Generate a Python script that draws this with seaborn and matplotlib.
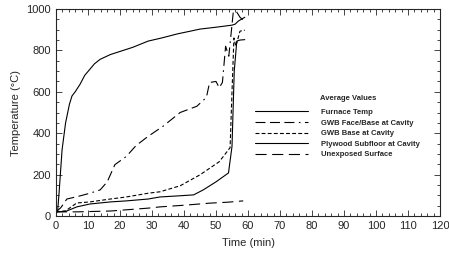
import numpy as np
import pandas as pd
import matplotlib
matplotlib.use("Agg")
import matplotlib.pyplot as plt
from matplotlib.ticker import MultipleLocator
import seaborn as sns

# values (time in min, temperature in degC)
furnace_t = [0, 0.5, 1.0, 1.9, 3.0, 4.2, 5.0, 6.0, 7.5, 9.0, 10.6, 12.0, 13.8, 17, 20, 24, 28.8, 33, 38, 42, 45, 50, 55, 56, 57, 59]
furnace_T = [20, 20, 120, 320, 450, 540, 580, 600, 636, 680, 709, 735, 757, 780, 795, 815, 845, 860, 880, 893, 903, 912, 922, 927, 942, 960]

face_t = [0, 1.5, 3.4, 7, 10.6, 13.8, 16, 18.4, 22, 25, 28.8, 33.4, 38.8, 44, 47, 48, 50, 51, 52, 53, 54, 55.4, 56.3, 57.5, 59]
face_T = [20, 40, 82, 95, 110, 126, 165, 248, 288, 340, 385, 433, 500, 530, 573, 645, 650, 620, 645, 820, 772, 985, 990, 960, 940]

base_t = [0, 3, 6.5, 10.6, 17, 22, 28.8, 32.5, 38.8, 45, 51, 54.4, 55.0, 55.6, 56.2, 57.5, 59]
base_T = [20, 25, 63, 68, 82, 92, 110, 117, 146, 199, 262, 330, 600, 860, 820, 893, 898]

ply_t = [0, 3, 6.5, 10.6, 17, 22, 28.8, 32.5, 38, 43, 46, 50, 53.9, 55.0, 55.7, 56.5, 57.5, 59]
ply_T = [20, 22, 44, 58, 68, 73, 82, 92, 97, 102, 126, 165, 208, 336, 700, 845, 850, 852]

unexp_t = [0, 6.5, 17, 28.8, 32.5, 40, 48, 54, 58.5]
unexp_T = [20, 20, 24, 38, 44, 52, 62, 67, 73]

series = [
    ("Furnace Temp", furnace_t, furnace_T, "-"),
    ("GWB Face/Base at Cavity", face_t, face_T, (0, (9, 4, 9, 4, 9, 4, 1.5, 4))),
    ("GWB Base at Cavity", base_t, base_T, (0, (3.5, 2))),
    ("Plywood Subfloor at Cavity", ply_t, ply_T, "-"),
    ("Unexposed Surface", unexp_t, unexp_T, (0, (10, 5))),
]

sns.set_style("ticks")
plt.rcParams["font.family"] = ["Liberation Sans", "DejaVu Sans"]

fig = plt.figure(figsize=(4.49, 2.58), dpi=100)
ax = fig.add_axes([0.1247, 0.1628, 0.8553, 0.8023])

for name, t, T, ls in series:
    df = pd.DataFrame({"Time": t, "Temp": T})
    sns.lineplot(data=df, x="Time", y="Temp", ax=ax, color="black", lw=0.8,
                 linestyle=ls, estimator=None, sort=False, label=name)

ax.set_xlim(0, 120)
ax.set_ylim(0, 1000)
ax.xaxis.set_major_locator(MultipleLocator(10))
ax.xaxis.set_minor_locator(MultipleLocator(2))
ax.yaxis.set_major_locator(MultipleLocator(200))
ax.yaxis.set_minor_locator(MultipleLocator(50))
ax.tick_params(which="both", direction="in", top=True, right=True, labelsize=8, width=0.6)
ax.tick_params(which="major", length=4)
ax.tick_params(which="minor", length=2)
for s in ax.spines.values():
    s.set_linewidth(0.8)
ax.set_xlabel("Time (min)", fontsize=8, labelpad=5)
ax.set_ylabel("Temperature (\u00b0C)", fontsize=8, labelpad=4)

leg = ax.legend(loc="upper left", bbox_to_anchor=(0.518, 0.518), frameon=False,
                prop={"size": 5.5, "weight": "bold"}, handlelength=6.9,
                handletextpad=1.8, labelspacing=0.42, borderpad=0, borderaxespad=0)
ax.text(0.6875, 0.566, "Average Values", transform=ax.transAxes, fontsize=5.5,
        fontweight="bold", va="center", ha="left")

fig.savefig("out.png", dpi=100)
